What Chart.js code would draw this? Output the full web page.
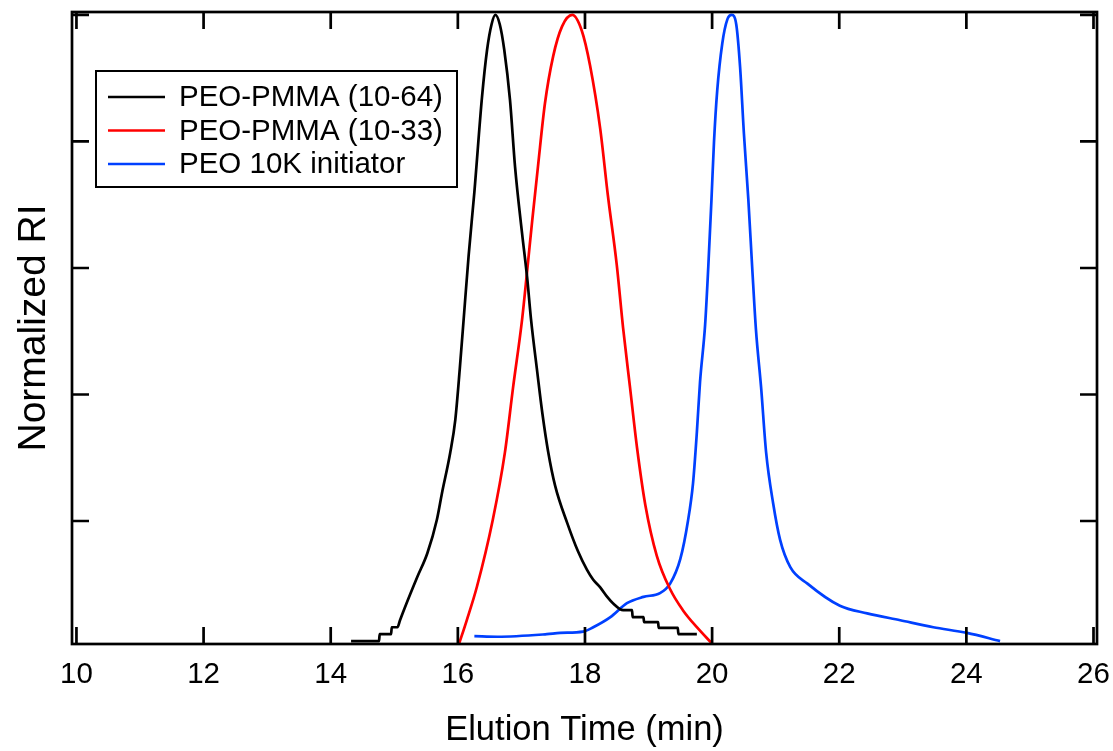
<!DOCTYPE html>
<html>
<head>
<meta charset="utf-8">
<script src="https://cdn.jsdelivr.net/npm/chart.js@4"></script>
<style>
  body { margin: 0; background: #fff; }
  canvas { display: block; }
</style>
</head>
<body>
<canvas id="myChart" width="1113" height="751"></canvas>
<script>
// elution time (min) / normalized RI
var timeA = [14.32, 14.76, 14.77, 14.95, 14.96, 15.05, 15.09, 15.17, 15.36, 15.52, 15.67, 15.75, 15.88, 15.96, 16.03, 16.10, 16.17, 16.26, 16.38, 16.46, 16.53, 16.59, 16.66, 16.73, 16.82, 16.90, 17.01, 17.09, 17.15, 17.25, 17.33, 17.42, 17.53, 17.72, 17.89, 18.03, 18.13, 18.24, 18.35, 18.44, 18.60, 18.74, 18.75, 18.92, 18.93, 19.15, 19.16, 19.46, 19.47, 19.76];
var riA = [0.010, 0.010, 0.021, 0.021, 0.032, 0.032, 0.043, 0.064, 0.111, 0.149, 0.202, 0.244, 0.308, 0.360, 0.440, 0.530, 0.620, 0.720, 0.870, 0.945, 0.985, 1.000, 0.985, 0.945, 0.866, 0.760, 0.655, 0.585, 0.520, 0.435, 0.370, 0.310, 0.256, 0.197, 0.152, 0.123, 0.107, 0.095, 0.080, 0.070, 0.059, 0.059, 0.048, 0.048, 0.040, 0.040, 0.031, 0.031, 0.021, 0.021];

var timeB = [16.02, 16.14, 16.30, 16.55, 16.74, 16.87, 17.01, 17.09, 17.17, 17.26, 17.37, 17.50, 17.64, 17.80, 17.95, 18.08, 18.24, 18.36, 18.50, 18.60, 18.71, 18.82, 18.95, 19.13, 19.34, 19.54, 19.76, 20.00];
var riB = [0.006, 0.043, 0.096, 0.202, 0.308, 0.412, 0.518, 0.595, 0.675, 0.760, 0.860, 0.935, 0.982, 1.000, 0.975, 0.920, 0.820, 0.715, 0.605, 0.505, 0.410, 0.315, 0.225, 0.145, 0.092, 0.059, 0.032, 0.006];

var timeC = [16.26, 16.62, 17.40, 17.61, 17.97, 18.13, 18.40, 18.66, 18.92, 19.18, 19.34, 19.50, 19.62, 19.70, 19.76, 19.81, 19.89, 19.94, 19.99, 20.03, 20.08, 20.16, 20.24, 20.31, 20.38, 20.44, 20.50, 20.57, 20.63, 20.69, 20.77, 20.85, 20.96, 21.07, 21.23, 21.50, 22.01, 22.44, 22.96, 23.48, 24.01, 24.53];
var riC = [0.018, 0.017, 0.021, 0.023, 0.025, 0.032, 0.048, 0.070, 0.080, 0.086, 0.101, 0.140, 0.200, 0.260, 0.340, 0.420, 0.510, 0.602, 0.708, 0.800, 0.880, 0.955, 0.993, 1.000, 0.985, 0.918, 0.813, 0.708, 0.602, 0.502, 0.412, 0.308, 0.228, 0.170, 0.127, 0.101, 0.066, 0.054, 0.043, 0.032, 0.023, 0.010];

var seriesNames = ["PEO-PMMA (10-64)", "PEO-PMMA (10-33)", "PEO 10K initiator"];
var xTickValues = [10, 12, 14, 16, 18, 20, 22, 24, 26];
var yTickValues = [0.2, 0.4, 0.6, 0.8, 1.0];

var FONT = '"Liberation Sans", Arial, sans-serif';

function pts(xs, ys) {
    return xs.map(function (x, i) { return { x: x, y: ys[i] }; });
}

// white page, box frame, inward ticks on all four sides
var framePlugin = {
    id: "frame",
    beforeDraw: function (chart) {
        var c = chart.ctx;
        c.save();
        c.fillStyle = "#fff";
        c.fillRect(0, 0, chart.width, chart.height);
        c.restore();
    },
    afterDatasetsDraw: function (chart) {
        var c = chart.ctx, a = chart.chartArea;
        var xs = chart.scales.x, ys = chart.scales.y;
        var len = 17;
        c.save();
        c.strokeStyle = "#000";
        c.lineWidth = 2.7;
        c.strokeRect(a.left, a.top, a.right - a.left, a.bottom - a.top);
        c.beginPath();
        xTickValues.forEach(function (v) {
            var px = xs.getPixelForValue(v);
            c.moveTo(px, a.bottom); c.lineTo(px, a.bottom - len);
            c.moveTo(px, a.top); c.lineTo(px, a.top + len);
        });
        yTickValues.forEach(function (v) {
            var py = ys.getPixelForValue(v);
            c.moveTo(a.left, py); c.lineTo(a.left + len, py);
            c.moveTo(a.right, py); c.lineTo(a.right - len, py);
        });
        c.stroke();
        c.restore();
    },
    afterDraw: function (chart) {
        // legend box in the upper left of the plot
        var c = chart.ctx;
        c.save();
        c.strokeStyle = "#000";
        c.lineWidth = 2;
        c.strokeRect(96, 71, 361, 116);
        c.font = "29.5px " + FONT;
        c.textBaseline = "middle";
        c.fillStyle = "#000";
        chart.data.datasets.forEach(function (ds, i) {
            var y = 97 + i * 33.5;
            c.strokeStyle = ds.borderColor;
            c.lineWidth = 2.5;
            c.beginPath();
            c.moveTo(108, y); c.lineTo(165, y);
            c.stroke();
            c.fillText(ds.label, 179, y + 1);
        });
        c.restore();
    },
};

var config = {
    type: "line",
    data: {
        datasets: [
            { label: seriesNames[0], data: pts(timeA, riA), borderColor: "#000000", borderWidth: 2.7, cubicInterpolationMode: "monotone" },
            { label: seriesNames[1], data: pts(timeB, riB), borderColor: "#ff0000", borderWidth: 2.7, cubicInterpolationMode: "monotone" },
            { label: seriesNames[2], data: pts(timeC, riC), borderColor: "#0040ff", borderWidth: 2.7, cubicInterpolationMode: "monotone" },
        ],
    },
    options: {
        responsive: false,
        animation: false,
        layout: { padding: { top: 12, right: 16, left: 0, bottom: 0 } },
        elements: { point: { radius: 0 } },
        plugins: {
            legend: { display: false },
            tooltip: { enabled: false },
        },
        scales: {
            x: {
                type: "linear",
                min: 9.93,
                max: 26.055,
                grid: { display: false, drawTicks: false },
                border: { display: false },
                afterBuildTicks: function (s) {
                    s.ticks = xTickValues.map(function (v) { return { value: v }; });
                },
                ticks: {
                    color: "#000",
                    font: { family: FONT, size: 29.5 },
                    padding: 13,
                    maxRotation: 0,
                    autoSkip: false,
                },
                title: {
                    display: true,
                    text: "Elution Time (min)",
                    color: "#000",
                    font: { family: FONT, size: 34.5 },
                    padding: { top: 0, bottom: 0 },
                },
                afterFit: function (s) {
                    s.height = 107;
                    s.paddingLeft = 0;
                    s.paddingRight = 0;
                },
            },
            y: {
                type: "linear",
                min: 0.0055,
                max: 1.0047,
                grid: { display: false, drawTicks: false },
                border: { display: false },
                afterBuildTicks: function (s) {
                    s.ticks = yTickValues.map(function (v) { return { value: v }; });
                },
                ticks: { display: false },
                title: {
                    display: true,
                    text: "Normalized RI",
                    color: "#000",
                    font: { family: FONT, size: 39 },
                    padding: { top: 11, bottom: 0 },
                },
                afterFit: function (s) {
                    s.width = 72;
                    s.paddingTop = 0;
                    s.paddingBottom = 0;
                },
            },
        },
    },
    plugins: [framePlugin],
};

var ctx = document.getElementById("myChart");
window.myLine = new Chart(ctx, config);
</script>
</body>
</html>
